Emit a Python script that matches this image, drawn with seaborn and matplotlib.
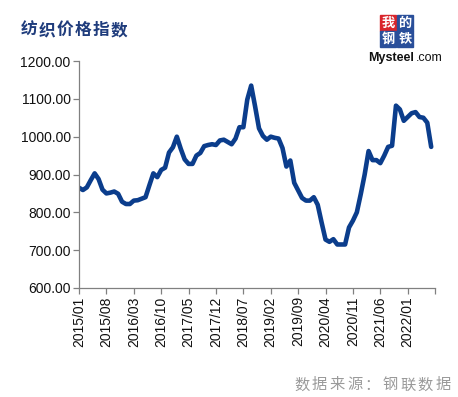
import pandas as pd
import matplotlib
matplotlib.use("Agg")
import matplotlib.pyplot as plt
from matplotlib.patches import Rectangle
import seaborn as sns

# monthly textile price index, 2015/01 - 2022/07
index_values = [865, 859, 866, 885, 903, 888, 860, 850, 852, 855,
                849, 828, 822, 822, 831, 832, 836, 840, 872, 903,
                893, 912, 918, 958, 972, 1000, 968, 940, 928, 928,
                950, 957, 975, 978, 980, 978, 990, 992, 986, 980,
                995, 1025, 1025, 1098, 1135, 1080, 1022, 1002, 992, 1000,
                997, 995, 970, 921, 937, 878, 858, 838, 831, 831,
                840, 820, 773, 728, 722, 729, 715, 715, 715, 760,
                778, 800, 848, 900, 962, 938, 938, 930, 950, 973,
                976, 1082, 1072, 1042, 1052, 1062, 1065, 1052, 1050, 1037,
                973]
tick_labels = ["2015/01", "2015/08", "2016/03", "2016/10", "2017/05",
               "2017/12", "2018/07", "2019/02", "2019/09", "2020/04",
               "2020/11", "2021/06", "2022/01", ""]
y_ticks = [600, 700, 800, 900, 1000, 1100, 1200]
title = "纺织价格指数"
source = "数据来源：钢联数据"

df = pd.DataFrame({"month": range(len(index_values)), "value": index_values})

sns.set_style("white")
plt.rcParams["font.family"] = ["Liberation Sans", "Noto Sans CJK SC", "DejaVu Sans"]

W, H = 458, 397
fig = plt.figure(figsize=(W / 100, H / 100), dpi=100)
ax = fig.add_axes([0.1725, 0.2746, 0.7775, 0.5717])

sns.lineplot(data=df, x="month", y="value", color="#0b3d8c", linewidth=3.3, ax=ax)

ax.set_xlim(0, 91)
ax.set_ylim(600, 1200)
ax.set_xticks(range(0, 92, 7))
ax.set_xticklabels(tick_labels, rotation=90, fontsize=10)
ax.set_yticks(y_ticks)
ax.set_yticklabels([f"{v:.2f}" for v in y_ticks], fontsize=10)
ax.set_xlabel("")
ax.set_ylabel("")

for side in ["top", "right"]:
    ax.spines[side].set_visible(False)
for side in ["left", "bottom"]:
    ax.spines[side].set_color("#808080")
    ax.spines[side].set_linewidth(0.9)
ax.tick_params(axis="both", which="both", length=4, width=0.9, color="#808080",
               direction="out", pad=2, labelcolor="#111111")
ax.tick_params(axis="y", left=True)
ax.tick_params(axis="x", bottom=True)

# title, spaced out a bit like the original
for k, ch in enumerate(title):
    fig.text((21 + 18 * k) / W, 1 - 30 / H, ch, fontsize=12, fontweight="bold",
             color="#1f3c7c", family=["Noto Sans CJK SC"], va="center", ha="left")

# source note
for k, ch in enumerate(source):
    fig.text((294 + 17.7 * k) / W, 1 - 385 / H, ch, fontsize=11,
             color="#9a9a9a", family=["Noto Sans CJK SC"], va="center", ha="left")

# logo
cells = [("我", 380, 15, "#d9252b"), ("的", 397, 15, "#2a4f9a"),
         ("钢", 380, 31, "#2a4f9a"), ("铁", 397, 31, "#2a4f9a")]
for ch, px, py, col in cells:
    fig.patches.append(Rectangle((px / W, 1 - (py + 16) / H), 16 / W, 16 / H,
                                 transform=fig.transFigure, color=col, zorder=5))
    fig.text((px + 8) / W, 1 - (py + 8) / H, ch, fontsize=9.5, color="white",
             fontweight="bold", family=["Noto Sans CJK SC"], ha="center",
             va="center", zorder=6)
fig.text(414 / W, 1 - 58 / H, "Mysteel", fontsize=9, color="#111111",
         ha="right", va="center", fontweight="bold")
fig.text(416 / W, 1 - 58 / H, ".com", fontsize=9, color="#111111",
         ha="left", va="center")

fig.savefig("out.png", dpi=100)
